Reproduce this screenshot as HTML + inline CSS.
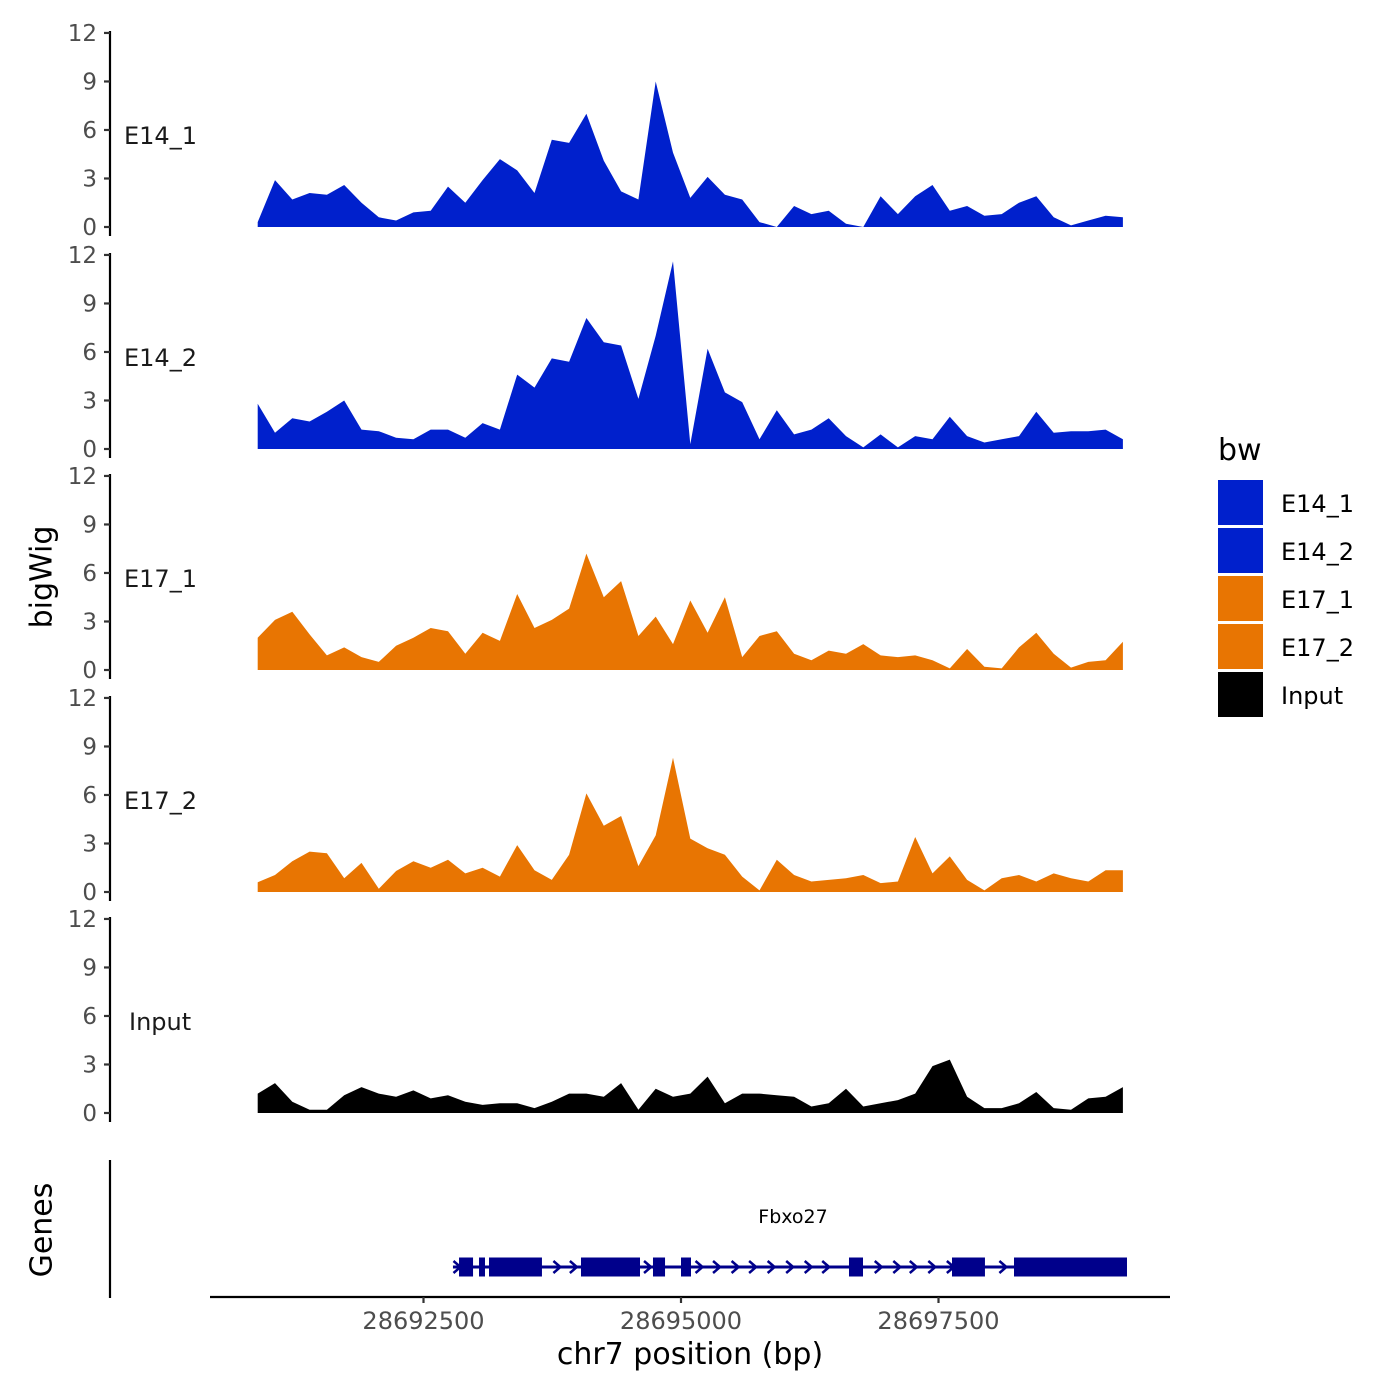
<!DOCTYPE html>
<html><head><meta charset="utf-8"><style>
html,body{margin:0;padding:0;background:#fff;}
svg{display:block;font-family:"DejaVu Sans","Liberation Sans",sans-serif;}
</style></head><body>
<svg id="chart" width="1400" height="1400" viewBox="0 0 1400 1400" xmlns="http://www.w3.org/2000/svg">
<rect width="1400" height="1400" fill="#fff"/>
<g id="tracks"></g>
<g id="genes"></g>
<g id="xaxis"></g>
<text x="42" y="577" font-size="30" text-anchor="middle" transform="rotate(-90 42 577)" dominant-baseline="central">bigWig</text>
<text x="42" y="1230" font-size="30" text-anchor="middle" transform="rotate(-90 42 1230)" dominant-baseline="central">Genes</text>
<text x="690" y="1364" font-size="30" text-anchor="middle">chr7 position (bp)</text>
<g id="legend">
<text x="1218" y="460" font-size="30">bw</text>
</g>
</svg>
<script>
const trackNames = ["E14_1","E14_2","E17_1","E17_2","Input"];
const trackColors = ["#0020cc","#0020cc","#e87502","#e87502","#000000"];
const startBp = 28690890;
const stepBp = 168;
const e14_1 = [0.3,2.9,1.7,2.1,2.0,2.6,1.5,0.6,0.4,0.9,1.0,2.5,1.5,2.9,4.2,3.5,2.1,5.4,5.2,7.0,4.1,2.2,1.7,9.0,4.6,1.8,3.1,2.0,1.7,0.3,0,1.3,0.8,1.0,0.2,0,1.9,0.8,1.9,2.6,1.0,1.3,0.7,0.8,1.5,1.9,0.6,0.1,0.4,0.7,0.6];
const e14_2 = [2.8,1.0,1.9,1.7,2.3,3.0,1.2,1.1,0.7,0.6,1.2,1.2,0.7,1.6,1.2,4.6,3.8,5.6,5.4,8.1,6.6,6.4,3.1,7.0,11.6,0.3,6.2,3.5,2.9,0.6,2.4,0.9,1.2,1.9,0.8,0.1,0.9,0.1,0.8,0.6,2.0,0.8,0.4,0.6,0.8,2.3,1.0,1.1,1.1,1.2,0.6];
const e17_1 = [2.0,3.1,3.6,2.2,0.9,1.4,0.8,0.5,1.5,2.0,2.6,2.4,1.0,2.3,1.8,4.7,2.6,3.1,3.8,7.2,4.5,5.5,2.1,3.3,1.6,4.3,2.3,4.5,0.8,2.1,2.4,1.0,0.6,1.2,1.0,1.6,0.9,0.8,0.9,0.6,0.1,1.3,0.2,0.1,1.4,2.3,1.0,0.15,0.5,0.6,1.75];
const e17_2 = [0.6,1.05,1.9,2.5,2.4,0.85,1.8,0.2,1.3,1.9,1.5,2.0,1.15,1.5,0.95,2.9,1.35,0.75,2.3,6.1,4.1,4.7,1.6,3.5,8.3,3.3,2.7,2.3,0.95,0.1,2.0,1.05,0.65,0.75,0.85,1.05,0.55,0.65,3.4,1.15,2.2,0.75,0.1,0.85,1.05,0.65,1.15,0.85,0.65,1.35,1.35];
const inputVals = [1.2,1.85,0.7,0.2,0.2,1.1,1.6,1.2,1.0,1.4,0.9,1.1,0.7,0.5,0.6,0.6,0.3,0.7,1.2,1.2,1.0,1.85,0.2,1.5,1.0,1.2,2.25,0.6,1.2,1.2,1.1,1.0,0.4,0.6,1.5,0.4,0.6,0.8,1.2,2.9,3.3,1.0,0.3,0.3,0.6,1.3,0.3,0.2,0.9,1.0,1.6];
const trackValues = [e14_1,e14_2,e17_1,e17_2,inputVals];
const yTicks = [0,3,6,9,12];
const xTicks = [28692500,28695000,28697500];
const xTickLabels = ["28692500","28695000","28697500"];
const geneName = "Fbxo27";
const geneStart = 28692786, geneEnd = 28699330;
const exonStarts = [28692845,28693039,28693136,28694029,28694728,28695000,28696631,28697631,28698233];
const exonEnds   = [28692981,28693097,28693650,28694602,28694845,28695097,28696767,28697951,28699330];
const chevronBp = [28692830,28693800,28693960,28694680,28695180,28695350,28695530,28695700,28695880,28696060,28696240,28696410,28696920,28697100,28697260,28697440,28697620,28698130,28698300];

const NS="http://www.w3.org/2000/svg";
function mk(tag,attrs,parent){const e=document.createElementNS(NS,tag);for(const k in attrs)e.setAttribute(k,attrs[k]);parent.appendChild(e);return e;}
const xs = bp => 681 + (bp-28695000)*0.103;
const panelBase = [227,449,670,892,1113];
const ys = (p,v) => panelBase[p] - v*16.17;

const tracks=document.getElementById('tracks');
trackNames.forEach((name,p)=>{
  const g=mk('g',{},tracks);
  
  
  const vals=trackValues[p];
  let d='M'+xs(startBp).toFixed(1)+','+ys(p,0).toFixed(1);
  vals.forEach((v,i)=>{d+=' L'+xs(startBp+i*stepBp).toFixed(1)+','+ys(p,v).toFixed(1);});
  d+=' L'+xs(startBp+(vals.length-1)*stepBp).toFixed(1)+','+ys(p,0).toFixed(1)+' Z';
  const a=mk('path',{d:d,fill:trackColors[p]},g);
  
  
  const ax=mk('line',{x1:110,x2:110,y1:ys(p,12)-2,y2:ys(p,0)+9,stroke:'#000','stroke-width':2.2},g);
  
  
  yTicks.forEach(t=>{
    const y=ys(p,t);
    const tk=mk('line',{x1:104,x2:110,y1:y,y2:y,stroke:'#333','stroke-width':2.2},g);
    
    
    const tl=mk('text',{x:97,y:y+1,'font-size':23,'text-anchor':'end','dominant-baseline':'central',fill:'#4d4d4d'},g);
    
    
    tl.textContent=t;
  });
  const lab=mk('text',{x:name==='Input'?129:124,y:ys(p,6)+6,'font-size':24,'dominant-baseline':'central',fill:'#1a1a1a'},g);
  
  
  lab.textContent=name;
});

const genes=document.getElementById('genes');
const gl=mk('line',{x1:110,x2:110,y1:1160,y2:1298,stroke:'#000','stroke-width':2.2},genes);


const gy=1267;
const gline=mk('line',{x1:xs(geneStart),x2:xs(geneEnd),y1:gy,y2:gy,stroke:'#00008b','stroke-width':3},genes);


chevronBp.forEach(b=>{
  const x=xs(b);
  const c=mk('path',{d:`M${x-4},${gy-6} L${x+3},${gy} L${x-4},${gy+6}`,fill:'none',stroke:'#00008b','stroke-width':2.5},genes);
  
  
});
exonStarts.forEach((s,i)=>{
  const x1=xs(s),x2=xs(exonEnds[i]);
  const r=mk('rect',{x:x1,y:gy-9.5,width:x2-x1,height:19,fill:'#00008b'},genes);
  
  
});
const gn=mk('text',{x:793,y:1223,'font-size':19,'text-anchor':'middle',fill:'#000'},genes);


gn.textContent=geneName;

const xa=document.getElementById('xaxis');
const xl=mk('line',{x1:210,x2:1170,y1:1297,y2:1297,stroke:'#000','stroke-width':2.2},xa);


xTicks.forEach((t,i)=>{
  const x=xs(t);
  const tk=mk('line',{x1:x,x2:x,y1:1297,y2:1303,stroke:'#333','stroke-width':2.2},xa);
  
  
  const tl=mk('text',{x:x,y:1329,'font-size':24,'text-anchor':'middle',fill:'#4d4d4d'},xa);
  
  
  tl.textContent=xTickLabels[i];
});

const lg=document.getElementById('legend');
trackNames.forEach((name,i)=>{
  const y=480+i*48;
  const r=mk('rect',{x:1218,y:y,width:45,height:45,fill:trackColors[i]},lg);
  
  
  const t=mk('text',{x:1281,y:y+24,'font-size':24,'dominant-baseline':'central',fill:'#000'},lg);
  
  
  t.textContent=name;
});
</script>
</body></html>
